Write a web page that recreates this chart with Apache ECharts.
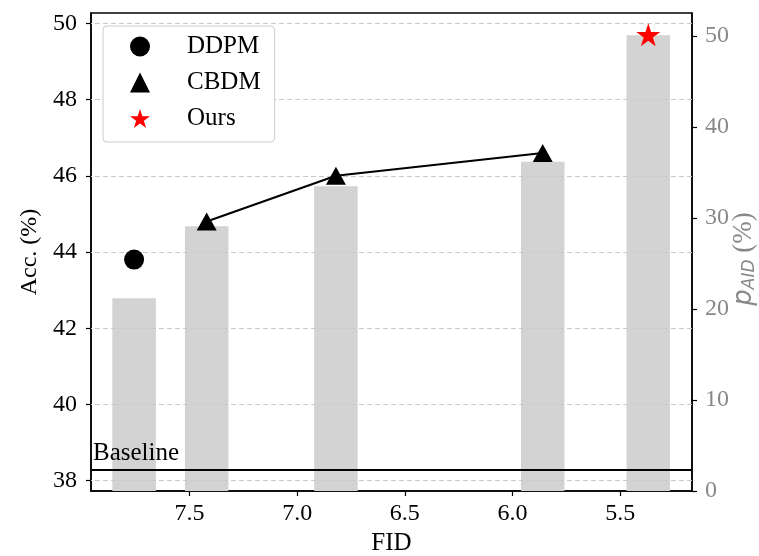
<!DOCTYPE html>
<html>
<head>
<meta charset="utf-8">
<script src="https://cdn.jsdelivr.net/npm/echarts@6/dist/echarts.min.js"></script>
<style>
  html, body { margin: 0; padding: 0; background: #fff; }
  #chart { width: 759px; height: 556px; }
</style>
</head>
<body>
<div id="chart"></div>
<script>
// tick labels
const fidTicks = [7.5, 7.0, 6.5, 6.0, 5.5];
const accTicks = [38, 40, 42, 44, 46, 48, 50];
const pTicks = [0, 10, 20, 30, 40, 50];

// grey bars: p_AID (%) per method (right axis)
const barFid = [7.757, 7.42, 6.82, 5.86, 5.37];
const barP = [21.2, 29.1, 33.5, 36.2, 50.1];

// accuracy points (left axis)
const ddpmFid = [7.757];
const ddpmAcc = [43.8];
const cbdmFid = [7.42, 6.82, 5.86];
const cbdmAcc = [44.8, 46.0, 46.6];
const oursFid = [5.37];
const oursAcc = [49.7];
const baselineAcc = 38.3;

const serif = "'Liberation Serif', 'Times New Roman', serif";
const starPath = 'path://M50,0 L61.2,34.5 L97.6,34.5 L68.2,55.9 L79.4,90.5 L50,69.1 L20.6,90.5 L31.8,55.9 L2.4,34.5 L38.8,34.5 Z';

const zip = (xs, ys) => xs.map((x, i) => [x, ys[i]]);

const chart = echarts.init(document.getElementById('chart'));

const option = {
  animation: false,
  textStyle: { fontFamily: serif },
  grid: {
    left: 91, right: 67, top: 13, bottom: 65,
    outerBoundsMode: 'none',
    containLabel: false,
    show: true, borderColor: '#000', borderWidth: 1.5, backgroundColor: 'transparent'
  },
  legend: {
    orient: 'vertical',
    left: 103, top: 26,
    padding: [8, 14, 11, 27],
    itemGap: 11,
    itemWidth: 20, itemHeight: 20,
    backgroundColor: '#fff',
    borderColor: '#ccc', borderWidth: 1, borderRadius: 4,
    textStyle: { fontFamily: serif, fontSize: 25, color: '#000', padding: [0, 0, 0, 32] },
    data: [
      { name: 'DDPM', icon: 'circle' },
      { name: 'CBDM', icon: 'triangle' },
      { name: 'Ours', icon: starPath }
    ]
  },
  xAxis: {
    type: 'value',
    inverse: true,
    min: 5.167, max: 7.957,
    name: 'FID', nameLocation: 'middle', nameGap: 36,
    nameTextStyle: { fontFamily: serif, fontSize: 25, color: '#000' },
    axisLine: { lineStyle: { color: '#000', width: 1.5 } },
    axisTick: { show: true, length: 5, lineStyle: { color: '#000', width: 1.2 }, customValues: fidTicks },
    axisLabel: {
      fontFamily: serif, fontSize: 24, color: '#000', margin: 11,
      customValues: fidTicks, formatter: v => v.toFixed(1)
    },
    splitLine: { show: false }
  },
  yAxis: [
    {
      type: 'value',
      min: 37.73, max: 50.27,
      name: 'Acc. (%)', nameLocation: 'middle', nameGap: 47, nameRotate: 90,
      nameTextStyle: { fontFamily: serif, fontSize: 24, color: '#000' },
      axisLine: { show: true, lineStyle: { color: '#000', width: 1.5 } },
      axisTick: { show: true, length: 5, lineStyle: { color: '#000', width: 1.2 }, customValues: accTicks },
      axisLabel: { fontFamily: serif, fontSize: 24, color: '#000', margin: 14, customValues: accTicks },
      splitLine: { show: false }
    },
    {
      type: 'value',
      position: 'right',
      min: 0, max: 52.55,
      name: '{p|p}{s|AID}{n| (%)}', nameLocation: 'middle', nameGap: 38, nameRotate: 90,
      nameMoveOverlap: false,
      nameTextStyle: {
        color: '#888',
        padding: [0, 14, 0, 0],
        rich: {
          p: { fontFamily: 'DejaVu Sans', fontStyle: 'italic', fontSize: 26, color: '#888' },
          s: { fontFamily: 'DejaVu Sans', fontStyle: 'italic', fontSize: 17, color: '#888', padding: [11, 0, 0, 0] },
          n: { fontFamily: serif, fontSize: 27, color: '#888' }
        }
      },
      axisLine: { show: true, lineStyle: { color: '#000', width: 1.5 } },
      axisTick: { show: true, length: 5, lineStyle: { color: '#000', width: 1.2 }, customValues: pTicks },
      axisLabel: { fontFamily: serif, fontSize: 24, color: '#888', margin: 13, customValues: pTicks },
      splitLine: { show: false }
    }
  ],
  series: [
    {
      name: 'pAID',
      type: 'bar',
      yAxisIndex: 1,
      barWidth: 43.5,
      itemStyle: { color: '#d3d3d3' },
      data: zip(barFid, barP),
      z: 1
    },
    {
      name: 'grid',
      type: 'line',
      yAxisIndex: 0,
      data: [],
      silent: true,
      markLine: {
        silent: true,
        symbol: 'none',
        label: { show: false },
        lineStyle: { color: '#c8c8c8', type: [5, 3], width: 1 },
        data: accTicks.map(v => ({ yAxis: v })),
        z: 3
      }
    },
    {
      name: 'baseline',
      type: 'line',
      yAxisIndex: 0,
      data: [],
      silent: true,
      markLine: {
        silent: true,
        symbol: 'none',
        lineStyle: { color: '#000', type: 'solid', width: 2 },
        label: {
          show: true, position: 'insideStartTop', formatter: 'Baseline',
          fontFamily: serif, fontSize: 25, color: '#000', distance: [2, 3]
        },
        data: [[{ coord: [7.957, baselineAcc] }, { coord: [5.167, baselineAcc] }]],
        z: 4
      }
    },
    {
      name: 'DDPM',
      type: 'scatter',
      yAxisIndex: 0,
      symbol: 'circle',
      symbolSize: 20,
      itemStyle: { color: '#000', opacity: 1 },
      data: zip(ddpmFid, ddpmAcc),
      z: 10
    },
    {
      name: 'CBDM',
      type: 'line',
      yAxisIndex: 0,
      symbol: 'triangle',
      symbolSize: [20, 18],
      lineStyle: { color: '#000', width: 2 },
      itemStyle: { color: '#000', opacity: 1 },
      data: zip(cbdmFid, cbdmAcc),
      z: 10
    },
    {
      name: 'Ours',
      type: 'scatter',
      yAxisIndex: 0,
      symbol: starPath,
      symbolKeepAspect: true,
      symbolSize: 24,
      itemStyle: { color: '#ff0000', opacity: 1 },
      data: zip(oursFid, oursAcc),
      z: 10
    }
  ]
};

chart.setOption(option);
</script>
</body>
</html>
